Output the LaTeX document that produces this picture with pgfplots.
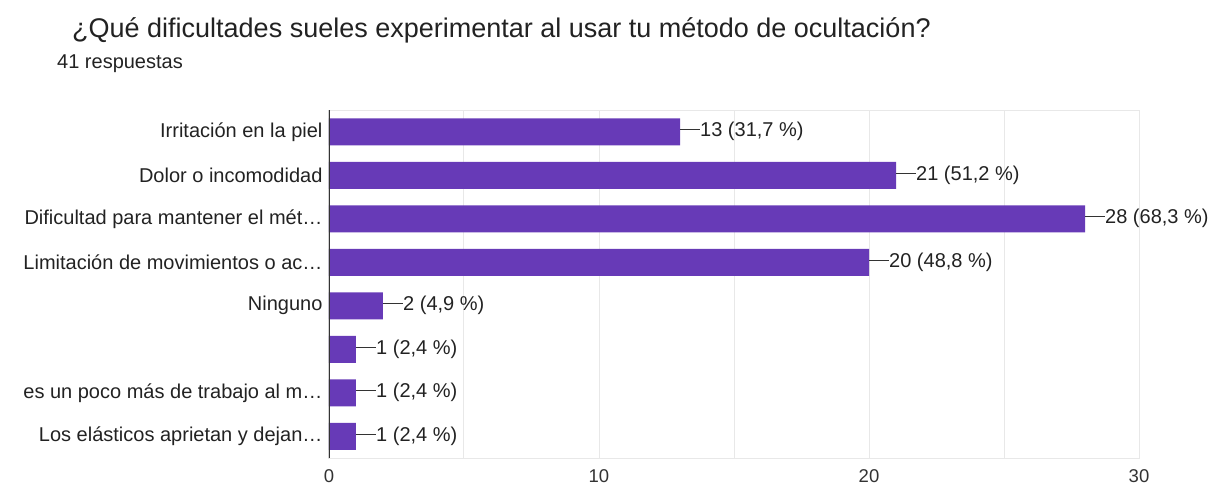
\documentclass[border=0pt]{standalone}
\usepackage{pgfplots}
\pgfplotsset{compat=1.18}
\usepackage{fontspec}
\setmainfont{Liberation Sans}
\definecolor{barpurple}{HTML}{673AB7}
\definecolor{txt}{HTML}{222222}
\definecolor{gridc}{HTML}{E8E8E8}
\definecolor{axisc}{HTML}{333333}
\begin{document}
\begin{tikzpicture}
\begin{axis}[
    name=ax,
    scale only axis, width=810pt, height=348pt,
    xmin=0, xmax=30, ymin=-0.5, ymax=7.5, y dir=reverse,
    xbar, bar width=27pt,
    xtick={0,10,20,30}, xticklabels={0,10,20,30},
    minor xtick={5,15,25},
    xmajorgrids, xminorgrids,
    grid style={gridc, line width=1pt},
    minor grid style={gridc, line width=1pt},
    ytick={0,...,7},
    yticklabels={Irritación en la piel, Dolor o incomodidad, Dificultad para mantener el mét…, Limitación de movimientos o ac…, Ninguno, {}, es un poco más de trabajo al m…, Los elásticos aprietan y dejan…},
    major tick length=0pt, minor tick length=0pt,
    axis line style={gridc, line width=1pt},
    tick label style={font=\fontsize{20}{24}\selectfont, text=txt},
    yticklabel style={xshift=-3pt},
    xticklabel style={yshift=-8pt, text=axisc, font=\fontsize{18.5}{22}\selectfont},
    point meta=explicit symbolic,
    nodes near coords={\textcolor{axisc}{\rule[0.33em]{20pt}{0.9pt}}\pgfplotspointmeta},
    every node near coord/.append style={anchor=west, inner sep=0pt, font=\fontsize{20}{24}\selectfont, text=txt},
]
\addplot[fill=barpurple, draw=none] coordinates {
    (13,0) [{13 (31,7 \%)}]
    (21,1) [{21 (51,2 \%)}]
    (28,2) [{28 (68,3 \%)}]
    (20,3) [{20 (48,8 \%)}]
    (2,4)  [{2 (4,9 \%)}]
    (1,5)  [{1 (2,4 \%)}]
    (1,6)  [{1 (2,4 \%)}]
    (1,7)  [{1 (2,4 \%)}]
};
\draw[axisc, line width=1.2pt] (rel axis cs:0,0) -- (rel axis cs:0,1);
\end{axis}
\node[anchor=base west, inner sep=0pt, font=\fontsize{27}{32}\selectfont, text=txt]
    at (ax.north west) [xshift=-257pt, yshift=72pt] {¿Qué dificultades sueles experimentar al usar tu método de ocultación?};
\node[anchor=base west, inner sep=0pt, font=\fontsize{20}{24}\selectfont, text=txt]
    at (ax.north west) [xshift=-272pt, yshift=41pt] {41 respuestas};
\path (ax.north west) ++(-329pt,110pt) rectangle ++(1212pt,-491pt);
\end{tikzpicture}
\end{document}
